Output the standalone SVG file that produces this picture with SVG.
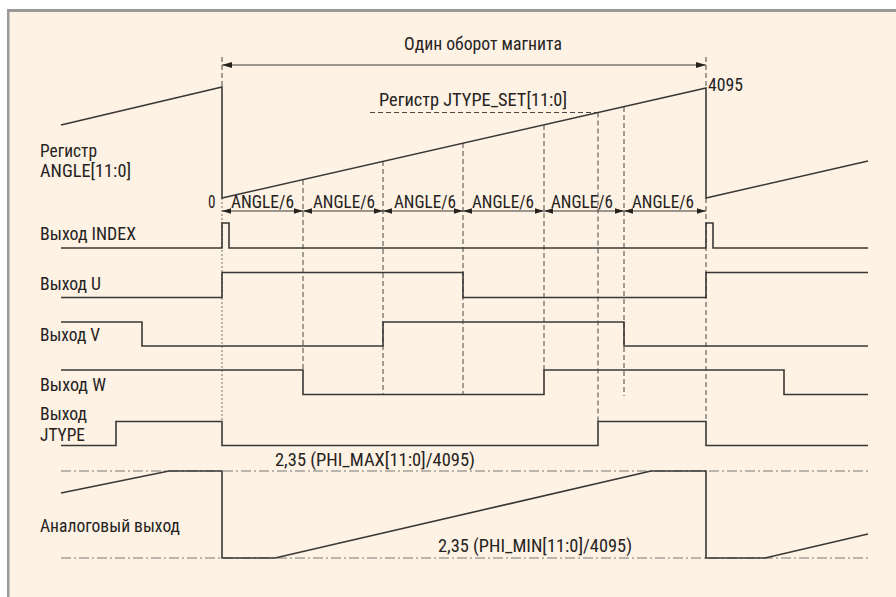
<svg xmlns="http://www.w3.org/2000/svg" width="896" height="597" viewBox="0 0 896 597">
<style>
text{font-family:"Liberation Sans Narrow","Roboto Condensed","Liberation Sans",Arial,sans-serif;font-size:18px;fill:#26231f}
.sig{fill:none;stroke:#3a3836;stroke-width:1.6;stroke-linejoin:miter}
.dash{fill:none;stroke:#4a4744;stroke-width:1;stroke-dasharray:5 3}
.dot{fill:none;stroke:#6a6660;stroke-width:0.9;stroke-dasharray:2 2}
.dd{fill:none;stroke:#777;stroke-width:1;stroke-dasharray:10 3 2 3}
.dim{fill:none;stroke:#3a3836;stroke-width:1.1}
</style>
<defs>
<marker id="ah" viewBox="0 0 10 6" refX="10" refY="3" markerWidth="10" markerHeight="6" markerUnits="userSpaceOnUse" orient="auto-start-reverse">
<path d="M0,0 L10,3 L0,6 z" fill="#26231f"/>
</marker>
<marker id="ahs" viewBox="0 0 10 6" refX="10" refY="3" markerWidth="9" markerHeight="5.6" markerUnits="userSpaceOnUse" orient="auto-start-reverse">
<path d="M0,0 L10,3 L0,6 z" fill="#26231f"/>
</marker>
</defs>
<rect x="0" y="0" width="896" height="597" fill="#ffffff"/>
<rect x="8" y="11" width="888" height="586" fill="#fdf2e3"/>
<rect x="7" y="9" width="889" height="3" fill="#9a9a9a"/>
<rect x="7" y="9" width="2.5" height="588" fill="#9a9a9a"/>

<g id="connectors">
<line class="dim" x1="222" y1="65" x2="706" y2="65" marker-start="url(#ah)" marker-end="url(#ah)"/>
<line class="dash" x1="222" y1="57" x2="222" y2="87"/>
<line class="dash" x1="706" y1="57" x2="706" y2="88"/>
<line class="dash" x1="370" y1="112.5" x2="598" y2="112.5"/>
<line class="dot" x1="222" y1="198" x2="222" y2="422"/>
<line class="dash" x1="303" y1="180" x2="303" y2="370"/>
<line class="dash" x1="383" y1="161" x2="383" y2="395"/>
<line class="dash" x1="463" y1="143" x2="463" y2="395"/>
<line class="dash" x1="544" y1="125" x2="544" y2="370"/>
<line class="dash" x1="598" y1="112.5" x2="598" y2="421"/>
<line class="dash" x1="624" y1="107" x2="624" y2="396"/>
<line class="dash" x1="706" y1="198" x2="706" y2="421"/>
<g id="angle-segments">
<line class="dim" x1="222" y1="211" x2="303" y2="211" marker-start="url(#ahs)" marker-end="url(#ahs)"/>
<line class="dim" x1="303" y1="211" x2="383" y2="211" marker-start="url(#ahs)" marker-end="url(#ahs)"/>
<line class="dim" x1="383" y1="211" x2="463" y2="211" marker-start="url(#ahs)" marker-end="url(#ahs)"/>
<line class="dim" x1="463" y1="211" x2="544" y2="211" marker-start="url(#ahs)" marker-end="url(#ahs)"/>
<line class="dim" x1="544" y1="211" x2="624" y2="211" marker-start="url(#ahs)" marker-end="url(#ahs)"/>
<line class="dim" x1="624" y1="211" x2="706" y2="211" marker-start="url(#ahs)" marker-end="url(#ahs)"/>
</g>
<line class="dd" x1="61" y1="471" x2="868" y2="471"/>
<line class="dd" x1="61" y1="558" x2="868" y2="558"/>
</g>

<g id="title">
<text x="404" y="50" textLength="158" lengthAdjust="spacingAndGlyphs">Один оборот магнита</text>
</g>
<g id="jtype-set">
<text x="379" y="106" textLength="188" lengthAdjust="spacingAndGlyphs">Регистр JTYPE_SET[11:0]</text>
</g>

<g id="angle">
<text x="40" y="157" textLength="57" lengthAdjust="spacingAndGlyphs">Регистр</text>
<text x="40" y="177" textLength="91" lengthAdjust="spacingAndGlyphs">ANGLE[11:0]</text>
<polyline class="sig" points="61,125 222,87 222,198 706,88 706,198 868,161"/>
<text x="708" y="91" textLength="35" lengthAdjust="spacingAndGlyphs">4095</text>
<text x="208" y="208" textLength="7.5" lengthAdjust="spacingAndGlyphs">0</text>
<text x="231" y="208" textLength="63" lengthAdjust="spacingAndGlyphs">ANGLE/6</text>
<text x="313" y="208" textLength="62" lengthAdjust="spacingAndGlyphs">ANGLE/6</text>
<text x="394" y="208" textLength="62" lengthAdjust="spacingAndGlyphs">ANGLE/6</text>
<text x="472" y="208" textLength="62" lengthAdjust="spacingAndGlyphs">ANGLE/6</text>
<text x="551" y="208" textLength="62" lengthAdjust="spacingAndGlyphs">ANGLE/6</text>
<text x="632" y="208" textLength="62" lengthAdjust="spacingAndGlyphs">ANGLE/6</text>
</g>

<g id="index">
<text x="40" y="240" textLength="96" lengthAdjust="spacingAndGlyphs">Выход INDEX</text>
<polyline class="sig" points="61,248 222,248 222,223 229,223 229,248 706,248 706,223 713,223 713,248 868,248"/>
</g>

<g id="out-u">
<text x="40" y="290" textLength="61" lengthAdjust="spacingAndGlyphs">Выход U</text>
<polyline class="sig" points="61,297.5 222,297.5 222,272.5 463,272.5 463,297.5 706,297.5 706,272.5 868,272.5"/>
</g>

<g id="out-v">
<text x="40" y="341" textLength="60" lengthAdjust="spacingAndGlyphs">Выход V</text>
<polyline class="sig" points="61,322 142,322 142,346 383,346 383,322 624,322 624,346 868,346"/>
</g>

<g id="out-w">
<text x="40" y="391" textLength="66" lengthAdjust="spacingAndGlyphs">Выход W</text>
<polyline class="sig" points="61,370 303,370 303,394.5 544,394.5 544,370 784,370 784,394.5 868,394.5"/>
</g>

<g id="out-jtype">
<text x="40" y="420" textLength="47" lengthAdjust="spacingAndGlyphs">Выход</text>
<text x="40" y="441" textLength="45" lengthAdjust="spacingAndGlyphs">JTYPE</text>
<polyline class="sig" points="61,445.5 116,445.5 116,421.5 222,421.5 222,445.5 598,445.5 598,421.5 706,421.5 706,445.5 868,445.5"/>
</g>

<g id="analog">
<text x="40" y="532" textLength="140" lengthAdjust="spacingAndGlyphs">Аналоговый выход</text>
<text x="275" y="466" textLength="200" lengthAdjust="spacingAndGlyphs">2,35 (PHI_MAX[11:0]/4095)</text>
<text x="438" y="552" textLength="194" lengthAdjust="spacingAndGlyphs">2,35 (PHI_MIN[11:0]/4095)</text>
<polyline class="sig" points="61,493 169,471 222,471 222,558 275,558 651,471 706,471 706,558 765,558 868,534"/>
</g>
</svg>
